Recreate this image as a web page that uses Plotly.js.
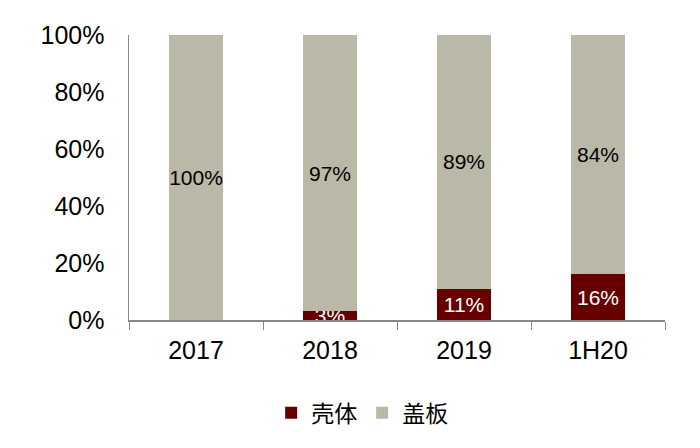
<!DOCTYPE html>
<html>
<head>
<meta charset="utf-8">
<script src="https://cdn.plot.ly/plotly-3.0.1.min.js"></script>
<style>
  html, body { margin: 0; padding: 0; background: #fff; }
  #chart { width: 700px; height: 448px; }
</style>
</head>
<body>
<div id="chart"></div>
<script>
const periods = ['2017', '2018', '2019', '1H20'];
const shellShare = [0, 3, 11, 16];   // 壳体
const coverShare = [100, 97, 89, 84]; // 盖板
const yTicks = [0, 20, 40, 60, 80, 100];

const fontFamily = '"Liberation Sans", Arial, "Noto Sans CJK SC", sans-serif';
const labelFont = '"Liberation Sans Narrow", "Arial Narrow", "Liberation Sans", sans-serif';

const traces = [
  {
    type: 'bar',
    name: '壳体',
    x: periods,
    y: shellShare,
    text: shellShare.map(v => (v ? v + '%' : '')),
    textposition: 'inside',
    insidetextanchor: 'middle',
    textangle: 0,
    constraintext: 'none',
    textfont: { color: '#ffffff', size: 21, family: labelFont },
    marker: { color: '#660000' },
    hoverinfo: 'none',
  },
  {
    type: 'bar',
    name: '盖板',
    x: periods,
    y: coverShare,
    text: coverShare.map(v => v + '%'),
    textposition: 'inside',
    insidetextanchor: 'middle',
    textangle: 0,
    constraintext: 'none',
    textfont: { color: '#000000', size: 21, family: labelFont },
    marker: { color: '#bab8a6' },
    hoverinfo: 'none',
  },
];

const layout = {
  width: 700,
  height: 448,
  barmode: 'stack',
  bargap: 0.6,
  margin: { l: 129, r: 35, t: 35, b: 128, pad: 0 },
  paper_bgcolor: '#ffffff',
  plot_bgcolor: '#ffffff',
  font: { family: fontFamily, size: 24, color: '#000000' },
  showlegend: true,
  legend: {
    orientation: 'h',
    x: 0.435,
    xanchor: 'center',
    y: -0.25,
    yanchor: 'top',
    font: { family: '"Noto Sans CJK SC", sans-serif', size: 23 },
    itemwidth: 30,
    traceorder: 'normal',
  },
  xaxis: {
    type: 'category',
    showline: true,
    linecolor: '#888888',
    linewidth: 1.5,
    ticks: 'outside',
    tickson: 'boundaries',
    ticklen: 8,
    tickcolor: '#888888',
    tickfont: { size: 25 },
    ticklabelstandoff: 7,
    showgrid: false,
  },
  yaxis: {
    range: [0, 100],
    tickvals: yTicks,
    ticktext: yTicks.map(v => v + '%'),
    showline: true,
    linecolor: '#888888',
    linewidth: 1.5,
    ticks: '',
    showgrid: false,
    zeroline: false,
    tickfont: { size: 25 },
    ticklabelstandoff: 18,
  },
};

Plotly.newPlot('chart', traces, layout, { displayModeBar: false, staticPlot: true });
</script>
</body>
</html>
